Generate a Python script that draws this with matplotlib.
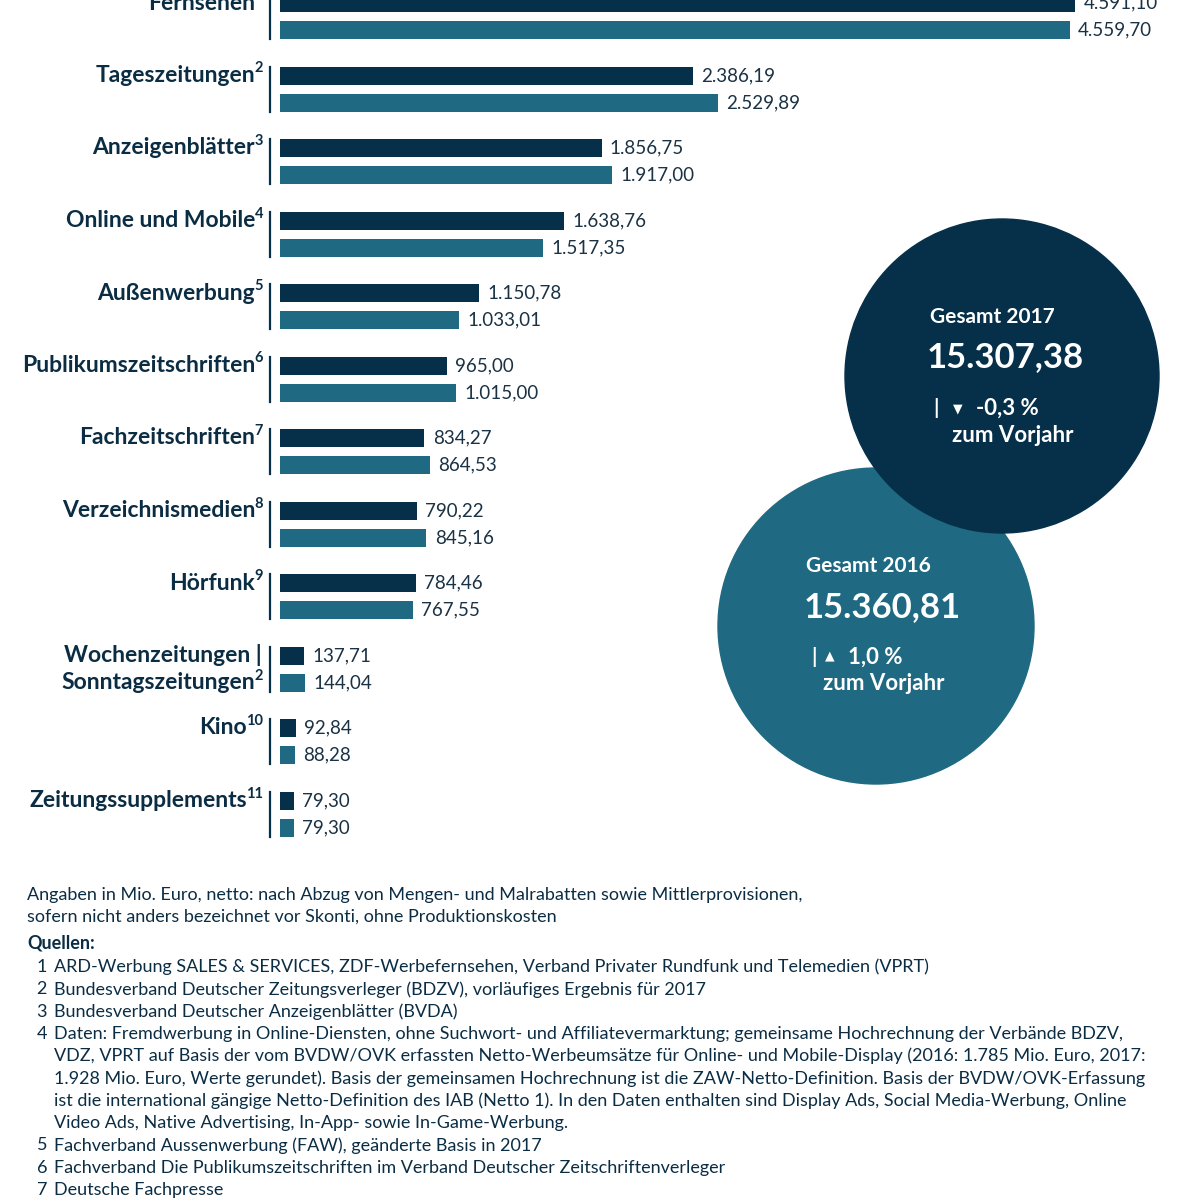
import numpy as np
import matplotlib
matplotlib.use("Agg")
import matplotlib.pyplot as plt
from matplotlib.patches import Circle

# values in Mio. Euro
categories = ['Fernsehen', 'Tageszeitungen', 'Anzeigenblätter', 'Online und Mobile',
              'Außenwerbung', 'Publikumszeitschriften', 'Fachzeitschriften',
              'Verzeichnismedien', 'Hörfunk', 'Sonntagszeitungen', 'Kino',
              'Zeitungssupplements']
notes = ['1', '2', '3', '4', '5', '6', '7', '8', '9', '2', '10', '11']
v2017 = [4591.10, 2386.19, 1856.75, 1638.76, 1150.78, 965.00, 834.27, 790.22,
         784.46, 137.71, 92.84, 79.30]
v2016 = [4559.70, 2529.89, 1917.00, 1517.35, 1033.01, 1015.00, 864.53, 845.16,
         767.55, 144.04, 88.28, 79.30]
total2017 = 15307.38
total2016 = 15360.81
change2017 = -0.3
change2016 = 1.0

footer = ["Angaben in Mio. Euro, netto: nach Abzug von Mengen- und Malrabatten sowie Mittlerprovisionen,",
          "sofern nicht anders bezeichnet vor Skonti, ohne Produktionskosten"]
sources = [("1", "ARD-Werbung SALES & SERVICES, ZDF-Werbefernsehen, Verband Privater Rundfunk und Telemedien (VPRT)"),
           ("2", "Bundesverband Deutscher Zeitungsverleger (BDZV), vorläufiges Ergebnis für 2017"),
           ("3", "Bundesverband Deutscher Anzeigenblätter (BVDA)"),
           ("4", "Daten: Fremdwerbung in Online-Diensten, ohne Suchwort- und Affiliatevermarktung; gemeinsame Hochrechnung der Verbände BDZV,"),
           ("", "VDZ, VPRT auf Basis der vom BVDW/OVK erfassten Netto-Werbeumsätze für Online- und Mobile-Display (2016: 1.785 Mio. Euro, 2017:"),
           ("", "1.928 Mio. Euro, Werte gerundet). Basis der gemeinsamen Hochrechnung ist die ZAW-Netto-Definition. Basis der BVDW/OVK-Erfassung"),
           ("", "ist die international gängige Netto-Definition des IAB (Netto 1). In den Daten enthalten sind Display Ads, Social Media-Werbung, Online"),
           ("", "Video Ads, Native Advertising, In-App- sowie In-Game-Werbung."),
           ("5", "Fachverband Aussenwerbung (FAW), geänderte Basis in 2017"),
           ("6", "Fachverband Die Publikumszeitschriften im Verband Deutscher Zeitschriftenverleger"),
           ("7", "Deutsche Fachpresse")]

DARK = '#06304a'
TEAL = '#1f6a82'
TXT = '#0b2d44'
VAL = '#1a3244'

def de(v):
    s = f"{v:,.2f}"
    return s.replace(',', 'X').replace('.', ',').replace('X', '.')

plt.rcParams['font.family'] = ['Lato', 'DejaVu Sans']

fig = plt.figure(figsize=(12, 12), dpi=100)
# overlay axes in pixel coordinates
ov = fig.add_axes([0, 0, 1, 1])
ov.set_xlim(0, 1200)
ov.set_ylim(1200, 0)
ov.axis('off')

# bar axes: x in Mio. Euro, y in pixels
px_per_unit = 795 / 4591.10
bx = fig.add_axes([280 / 1200, 0, 920 / 1200, 1])
bx.set_xlim(0, 920 / px_per_unit)
bx.set_ylim(1200, 0)
bx.axis('off')

pitch = 72.5
y_dark = np.array([3 + pitch * i for i in range(len(categories))])
y_teal = y_dark + 27
bh = 18

bx.barh(y_dark, v2017, height=bh, color=DARK, clip_on=False)
bx.barh(y_teal, v2016, height=bh, color=TEAL, clip_on=False)
for y, v in zip(y_dark, v2017):
    bx.annotate(de(v), (v, y), xytext=(6, 0), textcoords='offset points',
                ha='left', va='center', fontsize=13.5, color=VAL)
for y, v in zip(y_teal, v2016):
    bx.annotate(de(v), (v, y), xytext=(6, 0), textcoords='offset points',
                ha='left', va='center', fontsize=13.5, color=VAL)

# category labels with superscripts
for i, (cat, n) in enumerate(zip(categories, notes)):
    y = y_dark[i]
    if cat == 'Sonntagszeitungen':
        ov.text(262, y, 'Wochenzeitungen |', ha='right', va='center',
                fontsize=16.5, fontweight='bold', color=TXT)
        y = y_teal[i]
    sup = ov.text(263, y - 7, n, ha='right', va='center', fontsize=10.5,
                  fontweight='bold', color=TXT)
    ov.annotate(cat, xy=(0, y), xycoords=(sup, 'data'), xytext=(0.5, 0),
                textcoords='offset points', ha='right', va='center',
                fontsize=16.5, fontweight='bold', color=TXT)
    ov.plot([270, 270], [y_dark[i] - bh / 2, y_teal[i] + bh / 2], color=DARK, lw=1.6)

# total circles
ov.add_patch(Circle((876, 626), 158, color=TEAL, zorder=3))
ov.add_patch(Circle((1002, 376), 157, color=DARK, zorder=4))

circ = dict(ha='left', va='center', fontweight='bold', color='white', zorder=5)
ov.text(930, 317, 'Gesamt 2017', fontsize=15, **circ)
ov.text(927, 357, de(total2017), fontsize=25, **circ)
ov.text(933, 408, '|', fontsize=15, **circ)
ov.text(953, 409, '▼', fontsize=9, color='white', family='DejaVu Sans',
        ha='left', va='center', zorder=5)
ov.text(976, 408, f"{change2017:.1f}".replace('.', ',') + ' %', fontsize=16, **circ)
ov.text(952, 435, 'zum Vorjahr', fontsize=16, **circ)

ov.text(806, 566, 'Gesamt 2016', fontsize=15, **circ)
ov.text(804, 607, de(total2016), fontsize=25, **circ)
ov.text(811, 657, '|', fontsize=15, **circ)
ov.text(825, 656, '▲', fontsize=9, color='white', family='DejaVu Sans',
        ha='left', va='center', zorder=5)
ov.text(848, 657, f"{change2016:.1f}".replace('.', ',') + ' %', fontsize=16, **circ)
ov.text(823, 684, 'zum Vorjahr', fontsize=16, **circ)

# footer
fs = 13
for k, line in enumerate(footer):
    ov.text(27, 895 + 22 * k, line, ha='left', va='center', fontsize=fs, color=TXT)
ov.text(27, 943, 'Quellen:', ha='left', va='center', fontsize=fs,
        fontweight='bold', color=TXT)
for k, (n, line) in enumerate(sources):
    y = 967 + 22.3 * k
    if n:
        ov.text(47, y, n, ha='right', va='center', fontsize=fs, color=TXT)
    ov.text(54, y, line, ha='left', va='center', fontsize=fs, color=TXT)

fig.savefig('out.png', dpi=100)
